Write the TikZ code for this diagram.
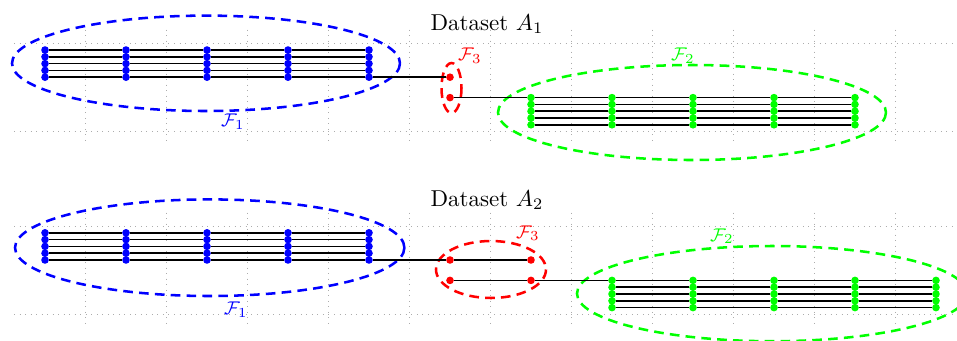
\documentclass[tikz,border=0pt]{standalone}
\tikzset{
  dotnode/.style={circle,inner sep=0pt,minimum size=3.3pt,fill=#1},
  link/.style={line width=0.75pt,black},
  group/.style={draw=#1,line width=1.1pt,dash pattern=on 4.2pt off 2.7pt},
  helpgrid/.style={gray!65,dotted,line width=0.4pt},
  flabel/.style={text=#1,font=\footnotesize,inner sep=0pt},
}
\begin{document}
\begin{tikzpicture}[x=0.435pt,y=-0.435pt]
\useasboundingbox (0,0) rectangle (957,340);
% background grids
\foreach \oy in {0,183}{
  \foreach \yy in {43.3,131.7} \draw[helpgrid] (14,\yy+\oy) -- (957,\yy+\oy);
  \foreach \k in {0,...,10} \draw[helpgrid] (85.5+81*\k,29.5+\oy) -- (85.5+81*\k,140+\oy);
}
% group ellipses
\draw[group=blue]  (206,63.3)   ellipse [x radius=194, y radius=47.7];
\draw[group=red]   (451.5,88)   ellipse [x radius=10, y radius=25];
\draw[group=green] (692,112.5)  ellipse [x radius=194, y radius=47.5];
\draw[group=blue]  (209.7,247.7) ellipse [x radius=194.7, y radius=48.3];
\draw[group=red]   (491,269.5)  ellipse [x radius=55, y radius=28.5];
\draw[group=green] (772,293.6)  ellipse [x radius=195, y radius=47.6];
% ---------- Dataset A1 ----------
\foreach \i in {0,...,4}\foreach \j in {0,...,4}
  \node[dotnode=blue] (A-\i-\j) at (45+81*\i, 50+6.8*\j) {};
\node[dotnode=red] (A-5-4) at (450, 50+6.8*4) {};
\node[dotnode=red] (A-5-7) at (450, 50+6.8*7) {};
\foreach \i in {6,...,10}\foreach \j in {7,...,11}
  \node[dotnode=green] (A-\i-\j) at (45+81*\i, 50+6.8*\j) {};
\foreach \j in {0,...,3}\foreach \i [count=\n from 1] in {0,...,3}
  \draw[link] (A-\i-\j) -- (A-\n-\j);
\foreach \i [count=\n from 1] in {0,...,4}
  \draw[link] (A-\i-4) -- (A-\n-4);
\foreach \i [count=\n from 6] in {5,...,9}
  \draw[link] (A-\i-7) -- (A-\n-7);
\foreach \j in {8,...,11}\foreach \i [count=\n from 7] in {6,...,9}
  \draw[link] (A-\i-\j) -- (A-\n-\j);
\node[anchor=base] (titleA) at (487,30) {Dataset $A_1$};
\node[flabel=blue]  (A-f1) at (233,121.5) {$\mathcal{F}_1$};
\node[flabel=red]   (A-f3) at (470,55.5) {$\mathcal{F}_3$};
\node[flabel=green] (A-f2) at (683,55.5) {$\mathcal{F}_2$};
% ---------- Dataset A2 ----------
\foreach \i in {0,...,4}\foreach \j in {0,...,4}
  \node[dotnode=blue] (B-\i-\j) at (45+81*\i, 232.8+6.8*\j) {};
\foreach \i in {5,6}{
  \node[dotnode=red] (B-\i-4) at (45+81*\i, 232.8+6.8*4) {};
  \node[dotnode=red] (B-\i-7) at (45+81*\i, 232.8+6.8*7) {};
}
\foreach \i in {7,...,11}\foreach \j in {7,...,11}
  \node[dotnode=green] (B-\i-\j) at (45+81*\i, 232.8+6.8*\j) {};
\foreach \j in {0,...,3}\foreach \i [count=\n from 1] in {0,...,3}
  \draw[link] (B-\i-\j) -- (B-\n-\j);
\foreach \i [count=\n from 1] in {0,...,5}
  \draw[link] (B-\i-4) -- (B-\n-4);
\foreach \i [count=\n from 6] in {5,...,10}
  \draw[link] (B-\i-7) -- (B-\n-7);
\foreach \j in {8,...,11}\foreach \i [count=\n from 8] in {7,...,10}
  \draw[link] (B-\i-\j) -- (B-\n-\j);
\node[anchor=base] (titleB) at (487,206) {Dataset $A_2$};
\node[flabel=blue]  (B-f1) at (236,309.5) {$\mathcal{F}_1$};
\node[flabel=red]   (B-f3) at (528,233) {$\mathcal{F}_3$};
\node[flabel=green] (B-f2) at (722,236) {$\mathcal{F}_2$};
\end{tikzpicture}
\end{document}
